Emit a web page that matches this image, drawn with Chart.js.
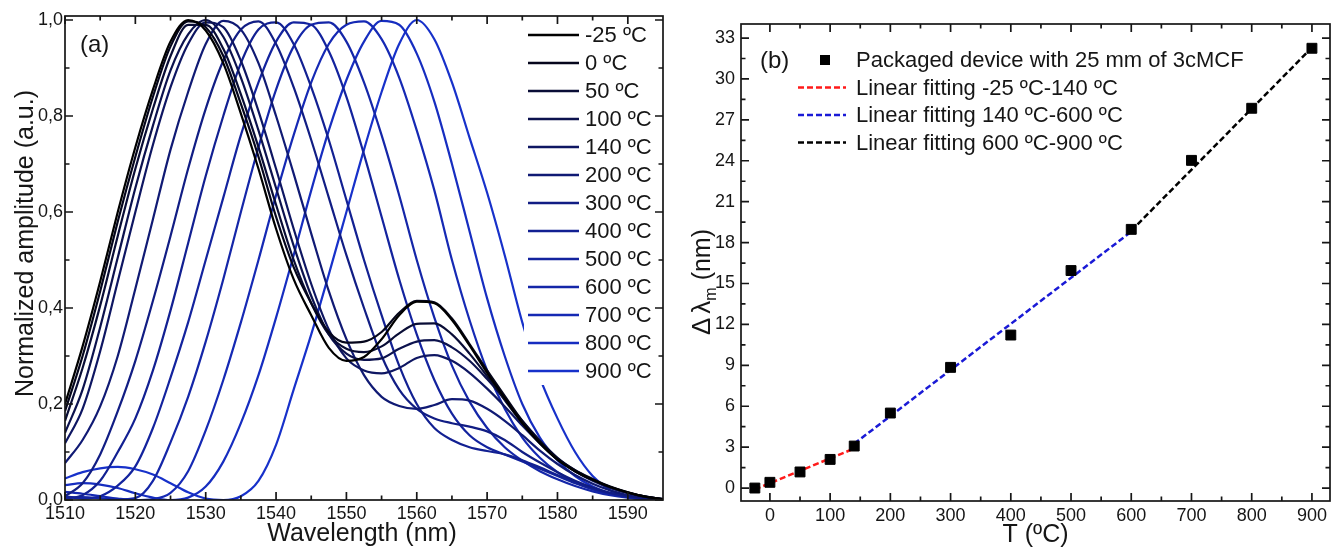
<!DOCTYPE html>
<html>
<head>
<meta charset="utf-8">
<script src="https://cdn.jsdelivr.net/npm/chart.js@4.4.0/dist/chart.umd.min.js"></script>
<style>
  html, body { margin: 0; padding: 0; background: #fff; }
  body { width: 1338px; height: 551px; position: relative; overflow: hidden; }
  .panel { position: absolute; top: 0; height: 551px; }
  #panelA { left: 0; width: 680px; }
  #panelB { left: 680px; width: 658px; }
</style>
</head>
<body>
<div class="panel" id="panelA"><canvas id="chartA"></canvas></div>
<div class="panel" id="panelB"><canvas id="chartB"></canvas></div>
<script>
// ---- panel (a): normalized spectra ----
const wavelength = [1510, 1512.5, 1515, 1517.5, 1520, 1522.5, 1525, 1527.5, 1530, 1532.5, 1535, 1537.5,
    1540, 1542.5, 1545, 1547.5, 1550, 1552.5, 1555, 1557.5, 1560, 1562.5, 1565, 1567.5, 1570, 1572.5,
    1575, 1577.5, 1580, 1582.5, 1585, 1587.5, 1590, 1592.5, 1595];

const amp_m25 = [0.200, 0.320, 0.455, 0.600, 0.735, 0.855, 0.955, 1.000, 0.978, 0.910, 0.805, 0.690, 0.565, 0.460, 0.385, 0.317, 0.290, 0.298, 0.335, 0.385, 0.413, 0.410, 0.375, 0.322, 0.265, 0.212, 0.160, 0.118, 0.084, 0.060, 0.042, 0.027, 0.016, 0.007, 0.002];
const amp_0   = [0.185, 0.300, 0.435, 0.580, 0.715, 0.840, 0.945, 0.997, 0.985, 0.925, 0.825, 0.715, 0.590, 0.485, 0.410, 0.350, 0.328, 0.330, 0.350, 0.390, 0.415, 0.412, 0.378, 0.325, 0.270, 0.217, 0.165, 0.122, 0.087, 0.062, 0.044, 0.028, 0.016, 0.007, 0.002];
const amp_50  = [0.165, 0.275, 0.405, 0.550, 0.690, 0.815, 0.925, 0.990, 0.990, 0.940, 0.845, 0.735, 0.615, 0.500, 0.410, 0.345, 0.315, 0.308, 0.320, 0.347, 0.367, 0.368, 0.345, 0.305, 0.258, 0.208, 0.160, 0.118, 0.084, 0.060, 0.042, 0.027, 0.015, 0.007, 0.002];
const amp_100 = [0.140, 0.230, 0.360, 0.505, 0.650, 0.780, 0.895, 0.970, 1.000, 0.965, 0.880, 0.770, 0.650, 0.530, 0.425, 0.345, 0.305, 0.292, 0.295, 0.315, 0.330, 0.333, 0.318, 0.290, 0.252, 0.210, 0.165, 0.124, 0.088, 0.062, 0.042, 0.026, 0.015, 0.007, 0.002];
const amp_140 = [0.118, 0.190, 0.310, 0.455, 0.600, 0.740, 0.860, 0.950, 0.995, 0.985, 0.915, 0.810, 0.690, 0.565, 0.450, 0.355, 0.295, 0.270, 0.264, 0.275, 0.296, 0.302, 0.290, 0.265, 0.232, 0.195, 0.155, 0.118, 0.085, 0.060, 0.040, 0.025, 0.014, 0.006, 0.002];
const amp_200 = [0.077, 0.125, 0.195, 0.300, 0.440, 0.585, 0.730, 0.850, 0.950, 0.998, 0.980, 0.910, 0.800, 0.680, 0.555, 0.435, 0.335, 0.260, 0.215, 0.196, 0.190, 0.198, 0.210, 0.207, 0.190, 0.165, 0.135, 0.103, 0.075, 0.052, 0.034, 0.020, 0.010, 0.004, 0.001];
const amp_300 = [0.008, 0.035, 0.095, 0.185, 0.290, 0.415, 0.550, 0.690, 0.815, 0.915, 0.980, 0.997, 0.950, 0.860, 0.750, 0.630, 0.510, 0.400, 0.300, 0.230, 0.190, 0.170, 0.160, 0.153, 0.143, 0.125, 0.100, 0.078, 0.058, 0.040, 0.026, 0.015, 0.008, 0.003, 0.001];
const amp_400 = [0.003, 0.010, 0.040, 0.100, 0.170, 0.270, 0.395, 0.535, 0.675, 0.800, 0.910, 0.980, 0.995, 0.950, 0.860, 0.750, 0.625, 0.500, 0.385, 0.280, 0.200, 0.150, 0.125, 0.110, 0.102, 0.095, 0.083, 0.068, 0.052, 0.037, 0.024, 0.014, 0.007, 0.003, 0.001];
const amp_500 = [0.008, 0.003, 0.008, 0.030, 0.070, 0.150, 0.255, 0.370, 0.500, 0.630, 0.760, 0.870, 0.955, 0.995, 0.990, 0.935, 0.840, 0.720, 0.590, 0.460, 0.345, 0.250, 0.180, 0.135, 0.110, 0.095, 0.080, 0.065, 0.050, 0.035, 0.023, 0.013, 0.006, 0.002, 0.000];
const amp_600 = [0.005, 0.006, 0.004, 0.001, 0.004, 0.040, 0.120, 0.215, 0.330, 0.460, 0.600, 0.735, 0.855, 0.945, 0.990, 0.995, 0.955, 0.870, 0.760, 0.635, 0.500, 0.380, 0.280, 0.205, 0.150, 0.110, 0.082, 0.060, 0.043, 0.029, 0.018, 0.010, 0.005, 0.002, 0.000];
const amp_700 = [0.017, 0.013, 0.008, 0.003, 0.000, 0.002, 0.015, 0.060, 0.145, 0.250, 0.370, 0.500, 0.635, 0.760, 0.870, 0.950, 0.990, 0.997, 0.960, 0.880, 0.770, 0.645, 0.500, 0.375, 0.270, 0.190, 0.130, 0.088, 0.058, 0.037, 0.022, 0.012, 0.006, 0.002, 0.000];
const amp_800 = [0.031, 0.035, 0.032, 0.025, 0.014, 0.005, 0.000, 0.005, 0.028, 0.080, 0.160, 0.260, 0.380, 0.510, 0.645, 0.770, 0.875, 0.955, 0.998, 0.990, 0.930, 0.830, 0.700, 0.560, 0.420, 0.300, 0.200, 0.130, 0.083, 0.050, 0.028, 0.014, 0.006, 0.002, 0.000];
const amp_900 = [0.045, 0.058, 0.066, 0.069, 0.064, 0.053, 0.035, 0.016, 0.003, 0.000, 0.008, 0.040, 0.115, 0.230, 0.345, 0.470, 0.600, 0.730, 0.850, 0.950, 1.000, 0.960, 0.870, 0.755, 0.640, 0.510, 0.370, 0.255, 0.170, 0.100, 0.050, 0.020, 0.006, 0.001, 0.000];

const seriesLabels = ['-25 ºC', '0 ºC', '50 ºC', '100 ºC', '140 ºC', '200 ºC', '300 ºC', '400 ºC', '500 ºC', '600 ºC', '700 ºC', '800 ºC', '900 ºC'];
const seriesAmps = [amp_m25, amp_0, amp_50, amp_100, amp_140, amp_200, amp_300, amp_400, amp_500, amp_600, amp_700, amp_800, amp_900];
const seriesColors = ['#000000', '#05061c', '#090d36', '#0c124e', '#0e1662', '#101a74', '#111d84', '#122092', '#13239e', '#1426a8', '#1529b4', '#162dc0', '#1731ca'];

const wlTicks = [1510, 1520, 1530, 1540, 1550, 1560, 1570, 1580, 1590];
const wlMinor = [1515, 1525, 1535, 1545, 1555, 1565, 1575, 1585];
const ampTicks = [0, 0.2, 0.4, 0.6, 0.8, 1.0];
const ampMinor = [0.1, 0.3, 0.5, 0.7, 0.9];

// ---- panel (b): wavelength shift vs temperature ----
const tempC = [-25, 0, 50, 100, 140, 200, 300, 400, 500, 600, 700, 800, 900];
const dLambda = [0.0, 0.42, 1.18, 2.1, 3.08, 5.5, 8.85, 11.22, 15.95, 18.97, 24.03, 27.85, 32.25];
const fitLowT = [-25, 140];
const fitLowY = [-0.1, 2.9];
const fitMidT = [140, 600];
const fitMidY = [3.25, 18.8];
const fitHighT = [600, 900];
const fitHighY = [18.87, 32.3];

const tTicks = [0, 100, 200, 300, 400, 500, 600, 700, 800, 900];
const tMinor = [50, 150, 250, 350, 450, 550, 650, 750, 850];
const dlTicks = [0, 3, 6, 9, 12, 15, 18, 21, 24, 27, 30, 33];
const dlMinor = [1.5, 4.5, 7.5, 10.5, 13.5, 16.5, 19.5, 22.5, 25.5, 28.5, 31.5];

const FONT = '"Liberation Sans", Arial, sans-serif';
const INK = '#161616';
Chart.defaults.font.family = FONT;
Chart.defaults.color = INK;

// frame with inward major/minor ticks on all four sides
function drawFrame(chart, xMaj, xMin, yMaj, yMin) {
    const ctx = chart.ctx;
    const a = chart.chartArea;
    const xs = chart.scales.x, ys = chart.scales.y;
    ctx.save();
    ctx.strokeStyle = INK;
    ctx.lineWidth = 1.7;
    ctx.beginPath();
    const xt = (vals, len) => vals.forEach(v => {
        const p = xs.getPixelForValue(v);
        ctx.moveTo(p, a.bottom); ctx.lineTo(p, a.bottom - len);
        ctx.moveTo(p, a.top); ctx.lineTo(p, a.top + len);
    });
    const yt = (vals, len) => vals.forEach(v => {
        const p = ys.getPixelForValue(v);
        ctx.moveTo(a.left, p); ctx.lineTo(a.left + len, p);
        ctx.moveTo(a.right, p); ctx.lineTo(a.right - len, p);
    });
    xt(xMaj, 8); xt(xMin, 4.5);
    yt(yMaj, 8); yt(yMin, 4.5);
    ctx.stroke();
    ctx.strokeRect(a.left, a.top, a.right - a.left, a.bottom - a.top);
    ctx.restore();
}

const panelAPlugin = {
    id: 'panelA',
    afterDatasetsDraw(chart) {
        const ctx = chart.ctx;
        const a = chart.chartArea;
        // legend with white background
        ctx.save();
        ctx.fillStyle = '#fff';
        ctx.fillRect(a.right - 139, a.top + 4, 138, 365);
        chart.data.datasets.forEach((ds, i) => {
            const y = a.top + 19 + 28 * i;
            ctx.strokeStyle = ds.borderColor;
            ctx.lineWidth = 2.5;
            ctx.beginPath();
            ctx.moveTo(a.right - 135, y);
            ctx.lineTo(a.right - 84, y);
            ctx.stroke();
            ctx.fillStyle = INK;
            ctx.font = '22px ' + FONT;
            ctx.textBaseline = 'middle';
            ctx.textAlign = 'left';
            ctx.fillText(ds.label, a.right - 78, y + 1);
        });
        ctx.restore();

        drawFrame(chart, wlTicks, wlMinor, ampTicks, ampMinor);

        ctx.save();
        ctx.fillStyle = INK;
        ctx.font = '24px ' + FONT;
        ctx.textBaseline = 'middle';
        ctx.textAlign = 'left';
        ctx.fillText('(a)', a.left + 15, a.top + 29);
        ctx.font = '25px ' + FONT;
        ctx.textAlign = 'center';
        ctx.textBaseline = 'alphabetic';
        ctx.fillText('Wavelength (nm)', (a.left + a.right) / 2 - 2, 541);
        ctx.translate(33, 243.5);
        ctx.rotate(-Math.PI / 2);
        ctx.fillText('Normalized amplitude (a.u.)', 0, 0);
        ctx.restore();
    }
};

const panelBPlugin = {
    id: 'panelB',
    afterDatasetsDraw(chart) {
        const ctx = chart.ctx;
        const a = chart.chartArea;
        drawFrame(chart, tTicks, tMinor, dlTicks, dlMinor);

        ctx.save();
        ctx.fillStyle = INK;
        ctx.font = '24px ' + FONT;
        ctx.textBaseline = 'middle';
        ctx.textAlign = 'left';
        ctx.fillText('(b)', a.left + 19, a.top + 37);

        // legend
        const ds = chart.data.datasets;
        const lx = a.left + 57, rows = [a.top + 36, a.top + 63.5, a.top + 91, a.top + 118.5];
        ctx.fillStyle = '#000';
        ctx.fillRect(a.left + 79, rows[0] - 5, 10, 10);
        for (let i = 1; i < ds.length; i++) {
            ctx.strokeStyle = ds[i].borderColor;
            ctx.lineWidth = 2.5;
            ctx.setLineDash([6, 3]);
            ctx.beginPath();
            ctx.moveTo(lx, rows[i]);
            ctx.lineTo(lx + 48, rows[i]);
            ctx.stroke();
        }
        ctx.setLineDash([]);
        ctx.fillStyle = INK;
        ctx.font = '22px ' + FONT;
        ds.forEach((d, i) => ctx.fillText(d.label, lx + 58, rows[i] + 1));

        // axis titles
        ctx.font = '25px ' + FONT;
        ctx.textAlign = 'center';
        ctx.textBaseline = 'alphabetic';
        ctx.fillText('T (ºC)', (a.left + a.right) / 2, 542);

        ctx.translate(30, 282);
        ctx.rotate(-Math.PI / 2);
        ctx.textAlign = 'left';
        const big = '26px ' + FONT, small = '16px ' + FONT, norm = '25px ' + FONT;
        ctx.font = big;
        const wD = ctx.measureText('Δ').width, wL = ctx.measureText('λ').width;
        ctx.font = small;
        const wM = ctx.measureText('m').width;
        ctx.font = norm;
        const wN = ctx.measureText(' (nm)').width;
        let x = -(wD + 4 + wL + wM + wN) / 2;
        ctx.font = big;
        ctx.fillText('Δ', x, 0); x += wD + 4;
        ctx.fillText('λ', x, 0); x += wL;
        ctx.font = small;
        ctx.fillText('m', x, 6); x += wM;
        ctx.font = norm;
        ctx.fillText(' (nm)', x, 0);
        ctx.restore();
    }
};

const chartA = new Chart(document.getElementById('chartA'), {
    type: 'line',
    data: {
        datasets: seriesLabels.map((label, i) => ({
            label: label,
            data: wavelength.map((w, k) => ({ x: w, y: seriesAmps[i][k] })),
            borderColor: seriesColors[i],
            borderWidth: 2.2,
            pointRadius: 0,
            cubicInterpolationMode: 'monotone',
            fill: false
        }))
    },
    options: {
        responsive: true,
        maintainAspectRatio: false,
        animation: false,
        devicePixelRatio: 1,
        layout: { padding: { top: 16, right: 17, bottom: 0, left: 0 } },
        plugins: { legend: { display: false }, tooltip: { enabled: false } },
        scales: {
            x: {
                type: 'linear', min: 1510, max: 1595,
                afterBuildTicks: s => { s.ticks = wlTicks.map(v => ({ value: v })); },
                afterFit: s => { s.height = 51; },
                grid: { display: false, drawTicks: false },
                border: { display: false },
                ticks: { font: { size: 18 }, color: INK, padding: 3, maxRotation: 0, autoSkip: false, callback: v => String(v) }
            },
            y: {
                type: 'linear', min: 0, max: 1.0083,
                afterBuildTicks: s => { s.ticks = ampTicks.map(v => ({ value: v })); },
                afterFit: s => { s.width = 65; },
                grid: { display: false, drawTicks: false },
                border: { display: false },
                ticks: { font: { size: 18 }, color: INK, padding: 2, autoSkip: false, callback: v => v.toFixed(1).replace('.', ',') }
            }
        }
    },
    plugins: [panelAPlugin]
});

const chartB = new Chart(document.getElementById('chartB'), {
    type: 'scatter',
    data: {
        datasets: [
            {
                label: 'Packaged device with 25 mm of 3cMCF',
                data: tempC.map((t, i) => ({ x: t, y: dLambda[i] })),
                pointStyle: 'rect', pointRadius: 7,
                backgroundColor: '#000', borderColor: '#000', borderWidth: 1,
                showLine: false
            },
            {
                label: 'Linear fitting -25 ºC-140 ºC',
                data: fitLowT.map((t, i) => ({ x: t, y: fitLowY[i] })),
                showLine: true, borderColor: '#ff1a1a', borderDash: [6, 3], borderWidth: 2.5, pointRadius: 0
            },
            {
                label: 'Linear fitting 140 ºC-600 ºC',
                data: fitMidT.map((t, i) => ({ x: t, y: fitMidY[i] })),
                showLine: true, borderColor: '#1a1ad6', borderDash: [6, 3], borderWidth: 2.5, pointRadius: 0
            },
            {
                label: 'Linear fitting 600 ºC-900 ºC',
                data: fitHighT.map((t, i) => ({ x: t, y: fitHighY[i] })),
                showLine: true, borderColor: '#000', borderDash: [6, 3], borderWidth: 2.5, pointRadius: 0
            }
        ]
    },
    options: {
        responsive: true,
        maintainAspectRatio: false,
        animation: false,
        devicePixelRatio: 1,
        layout: { padding: { top: 24, right: 7, bottom: 0, left: 0 } },
        plugins: { legend: { display: false }, tooltip: { enabled: false } },
        scales: {
            x: {
                type: 'linear', min: -48, max: 930,
                afterBuildTicks: s => { s.ticks = tTicks.map(v => ({ value: v })); },
                afterFit: s => { s.height = 50; },
                grid: { display: false, drawTicks: false },
                border: { display: false },
                ticks: { font: { size: 18 }, color: INK, padding: 4, maxRotation: 0, autoSkip: false }
            },
            y: {
                type: 'linear', min: -0.95, max: 34.03,
                afterBuildTicks: s => { s.ticks = dlTicks.map(v => ({ value: v })); },
                afterFit: s => { s.width = 61; },
                grid: { display: false, drawTicks: false },
                border: { display: false },
                ticks: { font: { size: 18 }, color: INK, padding: 6, autoSkip: false }
            }
        }
    },
    plugins: [panelBPlugin]
});
</script>
</body>
</html>
